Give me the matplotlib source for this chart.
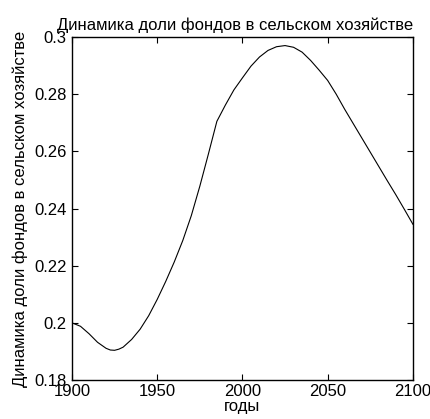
import matplotlib
matplotlib.use('Agg')
import matplotlib.pyplot as plt
from matplotlib.ticker import FuncFormatter

plt.rcParams['font.family'] = ['Liberation Sans', 'DejaVu Sans']

# values
years = [1900, 1905, 1910, 1915, 1920, 1922.5, 1925, 1927.5, 1930, 1935, 1940, 1945,
         1950, 1955, 1960, 1965, 1970, 1975, 1980, 1985, 1990, 1995,
         2000, 2005, 2010, 2015, 2020, 2025, 2030, 2035, 2040, 2045,
         2050, 2055, 2060, 2065, 2070, 2075, 2080, 2085, 2090, 2095, 2100]
share = [0.2000, 0.1988, 0.1962, 0.1932, 0.1911, 0.1905, 0.1904, 0.1908, 0.1915, 0.1942, 0.1978, 0.2025,
         0.2082, 0.2145, 0.2213, 0.2288, 0.2375, 0.2478, 0.2590, 0.2705, 0.2762, 0.2815,
         0.2857, 0.2898, 0.2930, 0.2953, 0.2966, 0.2970, 0.2964, 0.2947, 0.2918, 0.2884,
         0.2848, 0.2800, 0.2747, 0.2697, 0.2647, 0.2597, 0.2547, 0.2497, 0.2448, 0.2397, 0.2345]

xticks = [1900, 1950, 2000, 2050, 2100]
yticks = [0.18, 0.2, 0.22, 0.24, 0.26, 0.28, 0.3]

title = 'Динамика доли фондов в сельском хозяйстве'

fig = plt.figure(figsize=(4.31, 4.19), dpi=100)
ax = fig.add_axes([0.167, 0.0930, 0.791, 0.8187])
ax.plot(years, share, color='black', linewidth=0.8)

ax.set_xlim(1900, 2100)
ax.set_ylim(0.18, 0.3)
ax.set_xticks(xticks)
ax.set_yticks(yticks)
ax.yaxis.set_major_formatter(FuncFormatter(lambda v, p: '%g' % v))
ax.tick_params(direction='in', length=4, width=0.8, labelsize=12,
               top=True, right=True, colors='black')
ax.tick_params(axis='x', pad=3)
ax.tick_params(axis='y', pad=4)
for s in ax.spines.values():
    s.set_linewidth(1.0)

ax.set_title(title, fontsize=12, pad=5, x=0.478)
ax.set_xlabel('годы', fontsize=12, labelpad=0)
ax.set_ylabel(title, fontsize=12, labelpad=4)

fig.savefig('out.png', dpi=100)
